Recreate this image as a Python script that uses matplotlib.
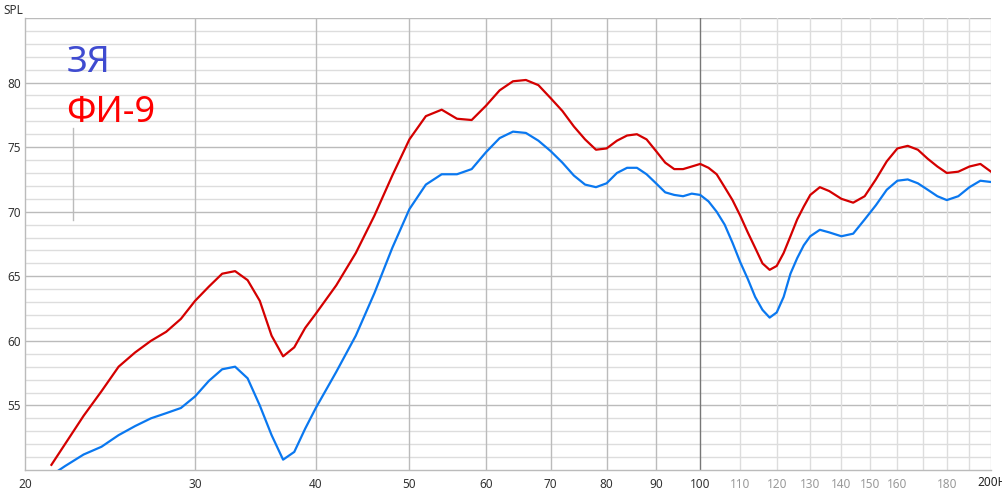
import numpy as np
import matplotlib
matplotlib.use('Agg')
import matplotlib.pyplot as plt

plt.rcParams['font.family'] = ['Noto Sans', 'DejaVu Sans']

# Данные (частота в Гц, уровень в дБ)
freq_red = [21.3, 22, 23, 24, 25, 26, 27, 28, 29, 30, 31, 32, 33, 34, 35, 36, 37, 38, 39, 40,
            42, 44, 46, 48, 50, 52, 54, 56, 58, 60, 62, 64, 66, 68, 70, 72, 74, 76, 78, 80,
            82, 84, 86, 88, 90, 92, 94, 96, 98, 100, 102, 104, 106, 108, 110, 112, 114, 116,
            118, 120, 122, 124, 126, 128, 130, 133, 136, 140, 144, 148, 152, 156, 160, 164,
            168, 172, 176, 180, 185, 190, 195, 200]
spl_red = [50.4, 52.0, 54.2, 56.1, 58.0, 59.1, 60.0, 60.7, 61.7, 63.1, 64.2, 65.2, 65.4, 64.7,
           63.1, 60.4, 58.8, 59.5, 61.0, 62.1,
           64.3, 66.8, 69.7, 72.8, 75.6, 77.4, 77.9, 77.2, 77.1, 78.2, 79.4, 80.1, 80.2, 79.8,
           78.8, 77.8, 76.6, 75.6, 74.8, 74.9,
           75.5, 75.9, 76.0, 75.6, 74.7, 73.8, 73.3, 73.3, 73.5, 73.7, 73.4, 72.9, 71.9, 70.9,
           69.7, 68.4, 67.2, 66.0,
           65.5, 65.8, 66.8, 68.1, 69.4, 70.4, 71.3, 71.9, 71.6, 71.0, 70.7, 71.2, 72.5, 73.9,
           74.9, 75.1,
           74.8, 74.1, 73.5, 73.0, 73.1, 73.5, 73.7, 73.1]

freq_blue = [21.6, 22, 23, 24, 25, 26, 27, 28, 29, 30, 31, 32, 33, 34, 35, 36, 37, 38, 39, 40,
             42, 44, 46, 48, 50, 52, 54, 56, 58, 60, 62, 64, 66, 68, 70, 72, 74, 76, 78, 80,
             82, 84, 86, 88, 90, 92, 94, 96, 98, 100, 102, 104, 106, 108, 110, 112, 114, 116,
             118, 120, 122, 124, 126, 128, 130, 133, 136, 140, 144, 148, 152, 156, 160, 164,
             168, 172, 176, 180, 185, 190, 195, 200]
spl_blue = [49.9, 50.3, 51.2, 51.8, 52.7, 53.4, 54.0, 54.4, 54.8, 55.7, 56.9, 57.8, 58.0, 57.1,
            55.0, 52.7, 50.8, 51.4, 53.2, 54.8,
            57.6, 60.4, 63.7, 67.2, 70.2, 72.1, 72.9, 72.9, 73.3, 74.6, 75.7, 76.2, 76.1, 75.5,
            74.7, 73.8, 72.8, 72.1, 71.9, 72.2,
            73.0, 73.4, 73.4, 72.9, 72.2, 71.5, 71.3, 71.2, 71.4, 71.3, 70.8, 70.0, 69.0, 67.6,
            66.1, 64.8, 63.4, 62.4,
            61.8, 62.2, 63.4, 65.2, 66.4, 67.4, 68.1, 68.6, 68.4, 68.1, 68.3, 69.4, 70.5, 71.7,
            72.4, 72.5,
            72.2, 71.7, 71.2, 70.9, 71.2, 71.9, 72.4, 72.3]

xticks_main = [20, 30, 40, 50, 60, 70, 80, 90, 100]
xticks_light = [110, 120, 130, 140, 150, 160, 180]
vgrid_main = [30, 40, 50, 60, 70, 80, 90]
vgrid_light = [110, 120, 130, 140, 150, 160, 170, 180, 190, 200]
yticks = [55, 60, 65, 70, 75, 80]

fig = plt.figure(figsize=(10.02, 4.95), dpi=100)
ax = fig.add_axes([25 / 1002, 1 - 470 / 495, 966 / 1002, 452 / 495])

ax.set_xscale('log')
ax.set_xlim(20, 200)
ax.set_ylim(50, 85)

# Сетка
for y in range(51, 86):
    c = '#bbbbbb' if y % 5 == 0 else '#dddddd'
    ax.axhline(y, color=c, lw=1, zorder=0)
for x in vgrid_main:
    ax.axvline(x, color='#bbbbbb', lw=1, zorder=0)
for x in vgrid_light:
    ax.axvline(x, color='#dddddd', lw=1, zorder=0)
ax.axvline(100, color='#777777', lw=1, zorder=0)

ax.plot(freq_red, spl_red, color='#d40000', lw=1.6, zorder=3)
ax.plot(freq_blue, spl_blue, color='#0a78f0', lw=1.6, zorder=3)

# Оси и подписи
for s in ['top', 'right']:
    ax.spines[s].set_visible(False)
for s in ['left', 'bottom']:
    ax.spines[s].set_color('#bbbbbb')
    ax.spines[s].set_linewidth(1)

ax.set_yticks(yticks)
ax.set_yticklabels([str(v) for v in yticks])
ax.tick_params(axis='y', length=0, pad=3, labelsize=8.5, labelcolor='#333333')

ax.set_xticks(xticks_main + xticks_light)
ax.set_xticklabels([str(v) for v in xticks_main + xticks_light])
ax.xaxis.set_minor_locator(matplotlib.ticker.NullLocator())
ax.tick_params(axis='x', length=0, pad=6, labelsize=8.5, labelcolor='#333333')
for lbl in ax.get_xticklabels():
    if int(lbl.get_text()) > 100:
        lbl.set_color('#999999')

ax.annotate('200Hz', xy=(200, 0), xycoords=('data', 'axes fraction'),
            xytext=(-14, -6), textcoords='offset pixels',
            ha='left', va='top', fontsize=8.5, color='#222222', annotation_clip=False)

fig.text(3 / 1002, 1 - 10 / 495, 'SPL', fontsize=8.5, color='#333333', va='center', ha='left')

# Легенда
ax.text(0.043, 0.90, 'ЗЯ', transform=ax.transAxes, fontsize=26, color='#3f4bd0',
        ha='left', va='center')
ax.text(0.043, 0.79, 'ФИ-9', transform=ax.transAxes, fontsize=26, color='#ff0000',
        ha='left', va='center')
ax.axvline(22.4, ymin=0.553, ymax=0.757, color='#bbbbbb', lw=1, zorder=1)

fig.savefig('out.png', dpi=100)
